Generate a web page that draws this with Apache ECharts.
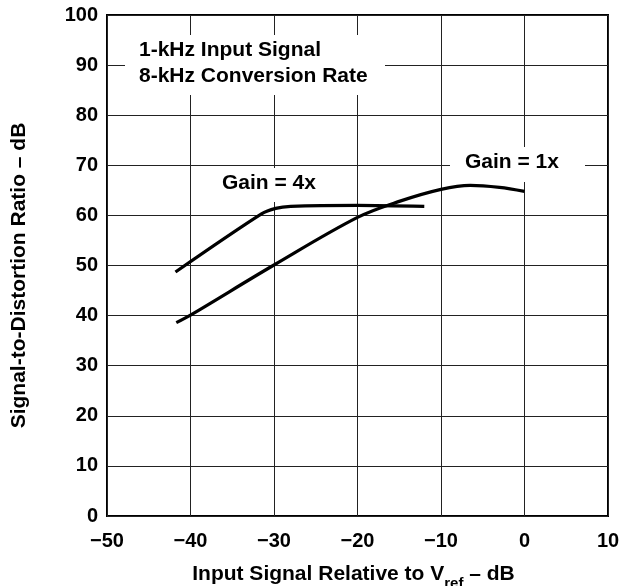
<!DOCTYPE html>
<html>
<head>
<meta charset="utf-8">
<script src="https://cdn.jsdelivr.net/npm/echarts@6/dist/echarts.min.js"></script>
<style>
html,body{margin:0;padding:0;background:#fff;}
#c{width:619px;height:586px;}
</style>
</head>
<body>
<div id="c"></div>
<script>
// Data
var gain1x = [[-41.7, 38.6], [-40, 40.1], [-30, 50.1], [-20, 59.6], [-15, 62.8], [-10, 65.2], [-6.5, 66.0], [-3, 65.6], [0, 64.8]];
var gain4x = [[-41.8, 48.7], [-31.5, 60.3], [-29.8, 61.4], [-28, 61.8], [-20, 62.0], [-12, 61.8]];
var xTickLabels = {'-50': '\u221250', '-40': '\u221240', '-30': '\u221230', '-20': '\u221220', '-10': '\u221210', '0': '0', '10': '10'};
var seriesNames = ['Gain = 1x', 'Gain = 4x'];
var noteLines = ['1-kHz Input Signal', '8-kHz Conversion Rate'];

var FONT = '"Liberation Sans", Arial, sans-serif';
var chart = echarts.init(document.getElementById('c'), null, {renderer: 'canvas'});
var option = {
  backgroundColor: '#fff',
  animation: false,
  grid: {left: 107, right: 11, top: 15, bottom: 70, outerBoundsMode: 'none', containLabel: false,
    show: true, borderColor: '#000', borderWidth: 2, backgroundColor: 'transparent'},
  xAxis: {
    type: 'value', min: -50, max: 10, interval: 10,
    axisLine: {show: false}, axisTick: {show: false},
    splitLine: {show: true, lineStyle: {color: '#222', width: 1}},
    axisLabel: {margin: 15, color: '#000', fontFamily: FONT, fontWeight: 'bold', fontSize: 20,
      formatter: function (v) { return xTickLabels[String(v)]; }},
    name: '{a|Input Signal Relative to V}{s|ref}{a| \u2013 dB}',
    nameLocation: 'middle', nameGap: 45,
    nameTextStyle: {
      padding: [0, 8, 0, 0],
      rich: {
        a: {fontFamily: FONT, fontWeight: 'bold', fontSize: 21, color: '#000', verticalAlign: 'bottom', lineHeight: 24},
        s: {fontFamily: FONT, fontWeight: 'bold', fontSize: 15, color: '#000', verticalAlign: 'bottom', lineHeight: 24, padding: [0, 0, -6, 0]}
      }
    }
  },
  yAxis: {
    type: 'value', min: 0, max: 100, interval: 10,
    axisLine: {show: false}, axisTick: {show: false},
    splitLine: {show: true, lineStyle: {color: '#222', width: 1}},
    axisLabel: {margin: 9, color: '#000', fontFamily: FONT, fontWeight: 'bold', fontSize: 20},
    name: 'Signal-to-Distortion Ratio \u2013 dB',
    nameLocation: 'middle', nameGap: 77,
    nameTextStyle: {fontFamily: FONT, fontWeight: 'bold', fontSize: 21, color: '#000', padding: [0, 20, 0, 0]}
  },
  graphic: [
    {type: 'rect', z: 1, shape: {x: 125, y: 35, width: 260, height: 60}, style: {fill: '#fff'}},
    {type: 'text', z: 2, left: 139, top: 37, style: {text: noteLines.join('\n'), fill: '#000', font: 'bold 21px ' + FONT, lineHeight: 26}},
    {type: 'rect', z: 1, shape: {x: 212, y: 168, width: 112, height: 34}, style: {fill: '#fff'}},
    {type: 'text', z: 2, left: 222, top: 173, style: {text: seriesNames[1], fill: '#000', font: 'bold 21px ' + FONT}},
    {type: 'rect', z: 1, shape: {x: 450, y: 147, width: 135, height: 35}, style: {fill: '#fff'}},
    {type: 'text', z: 2, left: 465, top: 152, style: {text: seriesNames[0], fill: '#000', font: 'bold 21px ' + FONT}}
  ],
  series: [
    {name: seriesNames[0], type: 'line', data: gain1x, smooth: 0.35, showSymbol: false, z: 5,
      lineStyle: {color: '#000', width: 3.2}},
    {name: seriesNames[1], type: 'line', data: gain4x, smooth: 0.3, showSymbol: false, z: 5,
      lineStyle: {color: '#000', width: 3.2}}
  ]
};
chart.setOption(option);
</script>
</body>
</html>
